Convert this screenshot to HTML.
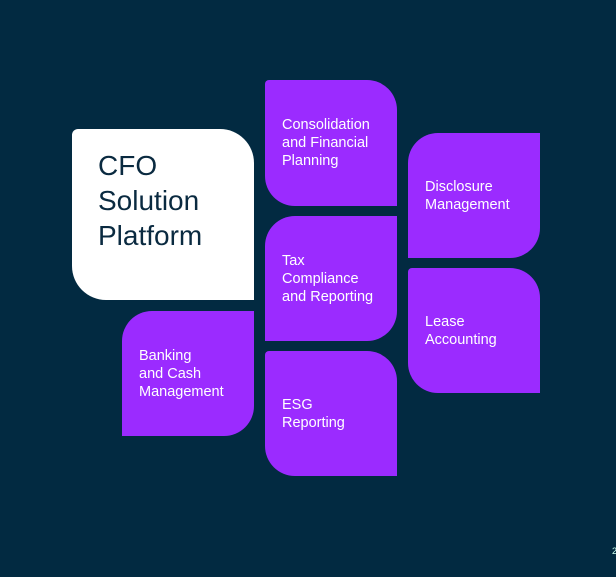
<!DOCTYPE html>
<html><head><style>
body{margin:0;width:616px;height:577px;background:#022a41;position:relative;overflow:hidden;font-family:"Liberation Sans",sans-serif}
.t{position:absolute;background:#9b2bff;color:#fff;font-size:14.5px;line-height:18px;box-sizing:border-box;width:132px;height:125px}
.a{border-radius:4px 30px 0 30px}
.b{border-radius:30px 0 30px 0}
.t span{position:absolute;left:17px}
</style></head><body>
<div style="position:absolute;left:72px;top:129px;width:182px;height:171px;background:#fff;border-radius:6px 34px 0 34px"></div>
<div style="position:absolute;left:98px;top:148px;font-size:28px;line-height:35px;color:#0a2a40">CFO<br>Solution<br>Platform</div>
<div class="t a" style="left:265px;top:80px;height:126px"><span style="top:36px">Consolidation<br>and Financial<br>Planning</span></div>
<div class="t b" style="left:265px;top:216px"><span style="top:36px">Tax<br>Compliance<br>and Reporting</span></div>
<div class="t a" style="left:265px;top:351px"><span style="top:45px">ESG<br>Reporting</span></div>
<div class="t b" style="left:122px;top:311px"><span style="top:36px">Banking<br>and Cash<br>Management</span></div>
<div class="t b" style="left:408px;top:133px"><span style="top:45px">Disclosure<br>Management</span></div>
<div class="t a" style="left:408px;top:268px"><span style="top:45px">Lease<br>Accounting</span></div>
<div style="position:absolute;left:612px;top:546px;font-size:9px;color:#cfe;">2</div>
</body></html>
